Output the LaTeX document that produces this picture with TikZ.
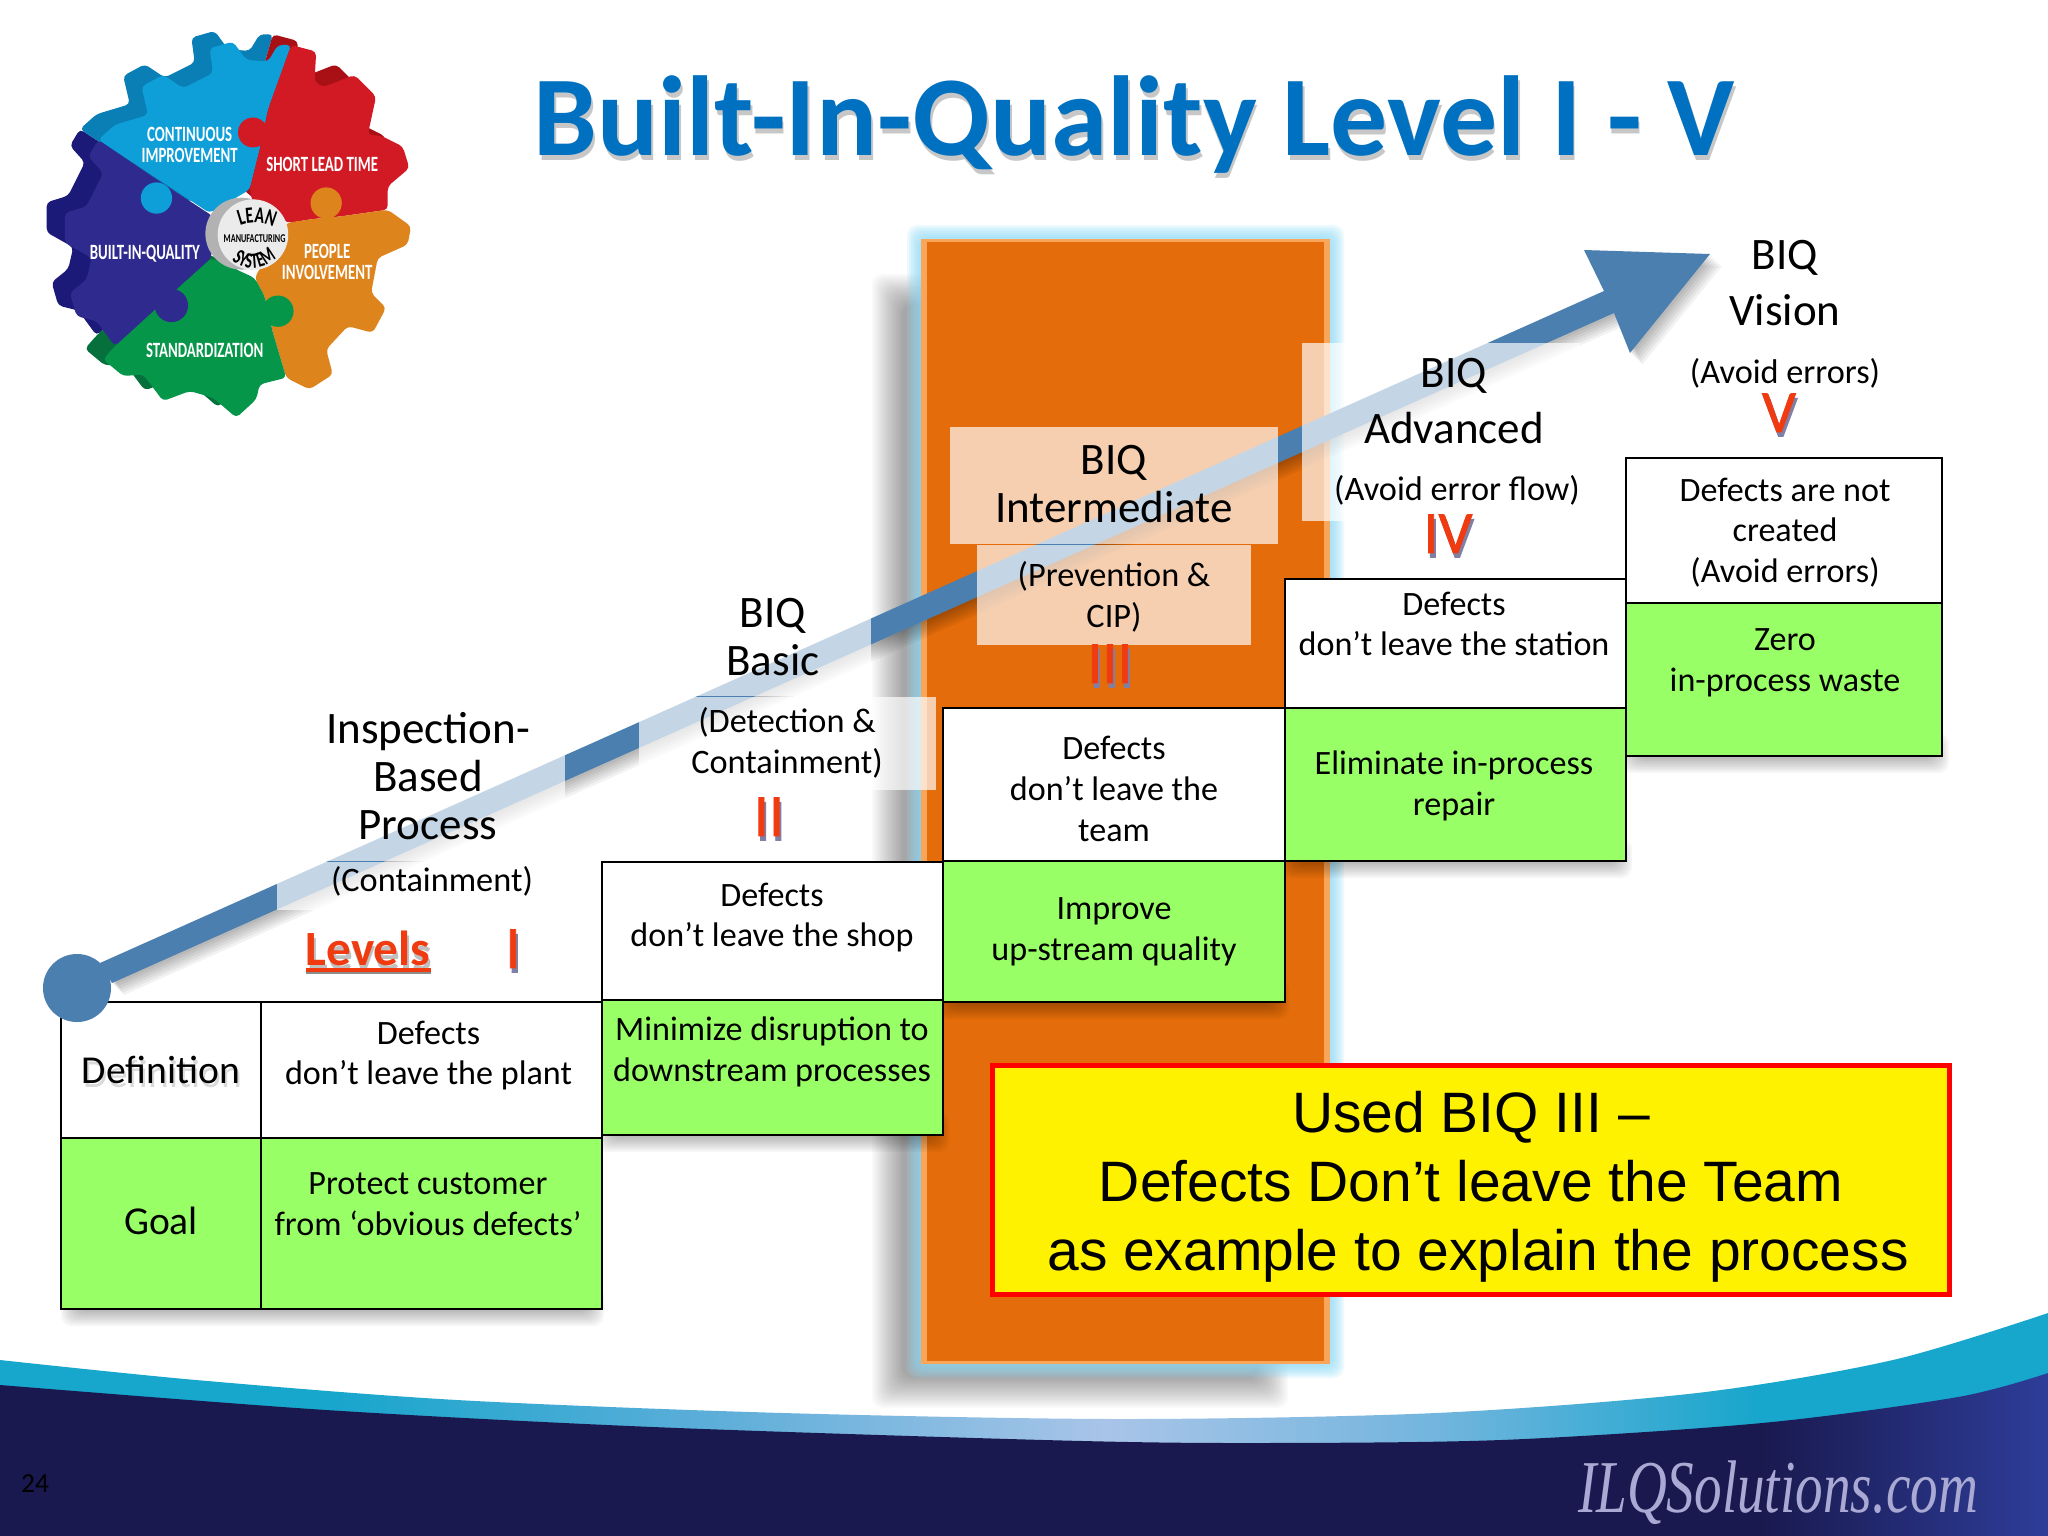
\documentclass[tikz,border=0pt]{standalone}
\usepackage{fontspec}
\usetikzlibrary{positioning, calc, decorations.text}
\setmainfont{Carlito}
\newfontfamily\arialfont{Liberation Sans}
\newfontfamily\serifitalic[FakeStretch=0.74]{Liberation Serif Italic}
\newfontfamily\gearfont[FakeStretch=0.68]{Carlito}
\newfontfamily\numeralfont[FakeBold=1.2]{Carlito}

\definecolor{navy}{HTML}{1A1A50}
\definecolor{cellgreen}{HTML}{99FF66}
\definecolor{arrowblue}{HTML}{4A7FB0}
\definecolor{columnorange}{HTML}{E46C0A}
\definecolor{columnedge}{HTML}{F9A65A}
\definecolor{levelred}{HTML}{F03A10}
\definecolor{titleblue}{HTML}{0070C0}
\definecolor{gearsky}{HTML}{0E9FD8}
\definecolor{gearskyback}{HTML}{0A7FB5}
\definecolor{gearred}{HTML}{D21A25}
\definecolor{gearredback}{HTML}{A81016}
\definecolor{gearorange}{HTML}{DD841C}
\definecolor{geargreen}{HTML}{06964A}
\definecolor{geargreenback}{HTML}{06703C}
\definecolor{gearindigo}{HTML}{2E2A8E}
\definecolor{gearindigoback}{HTML}{1C1A78}

\pgfdeclarehorizontalshading{ribbonfade}{100bp}{
  rgb(0bp)=(0.09,0.65,0.80); rgb(33bp)=(0.09,0.65,0.80); rgb(42bp)=(0.35,0.68,0.85);
  rgb(52bp)=(0.66,0.77,0.91); rgb(60bp)=(0.45,0.71,0.87); rgb(68bp)=(0.09,0.65,0.80); rgb(100bp)=(0.09,0.65,0.80)}
\pgfdeclarehorizontalshading{navyfade}{100bp}{
  rgb(0bp)=(0.10,0.10,0.31); rgb(68bp)=(0.10,0.10,0.31); rgb(75bp)=(0.18,0.24,0.60); rgb(100bp)=(0.18,0.24,0.60)}

% blurred rectangle: [reach] colour, opacity, corners
\newcommand{\softrect}[7][14]{
  \foreach \g in {0,2,...,#1}
    \fill[#2, opacity=#3, rounded corners=3pt] (#4-\g,#5-\g) rectangle (#6+\g,#7+\g);
}
% text with a dropped shadow
\newcommand{\dropped}[2][black!25]{\leavevmode\rlap{\kern.5pt\raisebox{-1.3pt}{\textcolor{#1}{#2}}}#2}

\begin{document}
\begin{tikzpicture}[
    x=0.01cm, y=-0.01cm,
    cell/.style={rectangle, draw=black, line width=0.75pt, inner sep=0pt, outer sep=0pt},
    plaincell/.style={cell, fill=white},
    greencell/.style={cell, fill=cellgreen},
    celltext/.style={align=center, inner sep=0pt, font=\fontsize{9.7}{11.6}\selectfont},
    headtext/.style={align=center, inner sep=0pt, font=\fontsize{12.8}{13.7}\selectfont},
    subtext/.style={align=center, inner sep=0pt, font=\fontsize{9.75}{11.6}\selectfont},
    numeral/.style={text=levelred, inner sep=0pt, font=\numeralfont\fontsize{17}{17}\selectfont},
    gearlabel/.style={text=white, align=center, inner sep=0pt, font=\gearfont\bfseries\fontsize{6.2}{6.1}\selectfont},
    geartooth/.style={rounded corners=1.2pt},
    veil/.style={fill=white, fill opacity=0.68}
]
    \useasboundingbox (0,0) rectangle (2048,1536);
    \fill[white] (0,0) rectangle (2048,1536);

    % Footer ribbon
    \shade[shading=ribbonfade] plot[smooth] coordinates {(0,1360) (196,1380) (457,1400) (783,1413) (1123,1419) (1436,1413) (1697,1393) (1893,1360) (2048,1313)} -- (2048,1536) -- (0,1536) -- cycle;
    \shade[shading=navyfade] plot[smooth] coordinates {(0,1385) (326,1410) (653,1427) (1044,1440) (1240,1443) (1501,1440) (1762,1423) (1958,1397) (2048,1373)} -- (2048,1536) -- (0,1536) -- cycle;

    % Highlighted column
    \softrect[30]{black}{0.022}{902}{304}{1258}{1378}
    \softrect{cyan!45}{0.16}{921}{239}{1330}{1364}
    \fill[columnedge] (921,239) rectangle (1330,1364);
    \fill[columnorange] (927,242) -- (1324,242) -- (1324,1361) -- (927,1361) -- cycle;

    % Shadows under the table
    \softrect{black}{0.035}{75}{1300}{590}{1312}
    \softrect{black}{0.035}{610}{1126}{935}{1138}
    \softrect{black}{0.035}{950}{993}{1275}{1005}
    \softrect{black}{0.035}{1295}{852}{1618}{864}
    \softrect{black}{0.035}{1635}{747}{1935}{759}

    % Table
    \node[plaincell, minimum width=2.00cm, minimum height=1.36cm] (defrow) at (161,1070) {};
    \node[greencell, minimum width=2.00cm, minimum height=1.71cm] (goalrow) at (161,1223.5) {};
    \node[plaincell, minimum width=3.41cm, minimum height=1.36cm] (plantdef) at (431.5,1070) {};
    \node[greencell, minimum width=3.41cm, minimum height=1.71cm] (plantgoal) at (431.5,1223.5) {};
    \node[plaincell, minimum width=3.41cm, minimum height=1.38cm] (shopdef) at (772.5,931) {};
    \node[greencell, minimum width=3.41cm, minimum height=1.35cm] (shopgoal) at (772.5,1067.5) {};
    \node[plaincell, minimum width=3.42cm, minimum height=1.53cm] (teamdef) at (1114,784.5) {};
    \node[greencell, minimum width=3.42cm, minimum height=1.41cm] (teamgoal) at (1114,931.5) {};
    \node[plaincell, minimum width=3.41cm, minimum height=1.29cm] (stationdef) at (1455.5,643.5) {};
    \node[greencell, minimum width=3.41cm, minimum height=1.53cm] (stationgoal) at (1455.5,784.5) {};
    \node[plaincell, minimum width=3.16cm, minimum height=1.45cm] (visiondef) at (1784,530.5) {};
    \node[greencell, minimum width=3.16cm, minimum height=1.53cm] (visiongoal) at (1784,679.5) {};

    % Rising arrow
    \coordinate (shaftup) at (100,963);
    \coordinate (shaftlow) at (112,983);
    \coordinate (neckup) at (1604,291);
    \coordinate (necklow) at (1614,313);
    \coordinate (headleft) at (1584,250);
    \coordinate (headtip) at (1710,254);
    \coordinate (headlow) at (1630,353);
    \foreach \s in {2,4,...,12}
      \fill[black, opacity=0.05] ([shift={(\s,\s)}]shaftup) -- ([shift={(\s,\s)}]neckup) -- ([shift={(\s,\s)}]headleft) -- ([shift={(\s,\s)}]headtip) -- ([shift={(\s,\s)}]headlow) -- ([shift={(\s,\s)}]necklow) -- ([shift={(\s,\s)}]shaftlow) -- cycle;
    \fill[arrowblue] (shaftup) -- (neckup) -- (headleft) -- (headtip) -- (headlow) -- (necklow) -- (shaftlow) -- cycle;
    \node[circle, fill=arrowblue, minimum size=0.68cm, inner sep=0pt] (pivot) at (77,988) {};

    % Text backgrounds
    \fill[veil] (277,700) rectangle (565,861);
    \fill[veil] (277,861.8) rectangle (565,910);
    \fill[veil] (639,581) rectangle (871,696);
    \fill[veil] (639,696.8) rectangle (936,790);
    \fill[veil] (950,427) rectangle (1278,544);
    \fill[veil] (977,544.8) rectangle (1251,645);
    \fill[veil] (1302,343) rectangle (1580,521);

    % Level texts
    \node[headtext] (inspecthead) at (428,776) {Inspection-\\Based\\Process};
    \node[subtext] (inspectsub) at (432,881.5) {(Containment)};
    \node[headtext] (basichead) at (773,637) {BIQ\\Basic};
    \node[subtext] (basicsub) at (787,743) {(Detection \&\\Containment)};
    \node[headtext] (midhead) at (1114,484) {BIQ\\Intermediate};
    \node[subtext] (midsub) at (1114,597) {(Prevention \&\\CIP)};
    \node[headtext, font=\fontsize{12.8}{16}\selectfont] (advhead) at (1454,401) {BIQ\\Advanced};
    \node[subtext] (advsub) at (1457,490.5) {(Avoid error flow)};
    \node[headtext, font=\fontsize{12.8}{16}\selectfont] (visionhead) at (1785,283) {BIQ\\Vision};
    \node[subtext] (visionsub) at (1785,373.5) {(Avoid errors)};

    % Numerals
    \node[inner sep=0pt, font=\fontsize{14}{14}\bfseries\selectfont, text=levelred] (levels) at (368,951) {\dropped{Levels}};
    \draw[black!45, line width=1.3pt] (306,972) -- (431,972);
    \draw[levelred, line width=1pt] (306,970) -- (431,970);
    \node[numeral] (levelone) at (513,951) {\dropped[blue!30!black!50]{I}};
    \node[numeral] (leveltwo) at (769,819) {\dropped[blue!30!black!50]{II}};
    \node[numeral] (levelthree) at (1110,666) {\dropped[blue!30!black!50]{III}};
    \node[numeral] (levelfour) at (1448,536) {\dropped[blue!30!black!50]{IV}};
    \node[numeral] (levelfive) at (1779,415) {\dropped[blue!30!black!50]{V}};

    % Cell texts
    \node[headtext, font=\fontsize{11.25}{12}\selectfont] (deftext) at (161,1072) {\dropped[black!15]{Definition}};
    \node[headtext, font=\fontsize{11.25}{12}\selectfont] (goaltext) at (161,1221) {Goal};
    \node[celltext] (planttext) at (428.5,1055.5) {Defects\\don’t leave the plant};
    \node[celltext] (protecttext) at (428,1204) {Protect customer\\from ‘obvious defects’};
    \node[celltext] (shoptext) at (772,917.5) {Defects\\don’t leave the shop};
    \node[celltext] (minimizetext) at (772,1051.5) {Minimize disruption to\\downstream processes};
    \node[celltext] (teamtext) at (1114,789) {Defects\\don’t leave the\\team};
    \node[celltext] (improvetext) at (1114,932) {Improve\\up-stream quality};
    \node[celltext] (stationtext) at (1454,624) {Defects\\don’t leave the station};
    \node[celltext] (eliminatetext) at (1454,785.5) {Eliminate in-process\\repair};
    \node[celltext] (visiontext) at (1785,532.5) {Defects are not\\created\\(Avoid errors)};
    \node[celltext] (zerotext) at (1785,663) {Zero\\in-process waste};

    % Callout
    \node[rectangle, draw=red, fill=yellow, line width=1.5pt, minimum width=9.56cm, minimum height=2.27cm, align=center, font=\arialfont\fontsize{16.2}{19.7}\selectfont] (callout) at (1471,1180) {\rule{0pt}{15.5pt}Used BIQ III –\\Defects Don’t leave the Team\\\hspace*{4pt}as example to explain the process};

    % Title
    \node[font=\fontsize{32.35}{34}\bfseries\selectfont, text=titleblue] (title) at (1134,127) {\dropped[black!22]{Built-In-Quality Level I - V}};

    % Footer texts
    \node[font=\fontsize{7.8}{8}\selectfont, text=black] (pagenum) at (35,1484) {24};
    \node[font=\serifitalic\fontsize{21.2}{22}\selectfont, text=blue!15!white!75!navy] (brand) at (1778,1493) {ILQSolutions.com};

    % Gear logo
    \begin{scope}[shift={(20,10)}, x=0.003333cm, y=-0.003333cm]
      % Extruded back faces
      \begin{scope}[shift={(-55,-32)}]
        \fill[gearindigoback, geartooth] (235,390) -- (205,440) -- (250,490) -- (200,590) -- (135,610) -- (135,700) -- (215,745) -- (200,810) -- (150,850) -- (170,920) -- (230,935) -- (285,1010) -- (575,745) -- (570,610) -- cycle;
        \fill[geargreenback, geartooth] (285,1010) -- (250,1050) -- (310,1100) -- (370,1095) -- (430,1175) -- (510,1145) -- (580,1165) -- (650,1225) -- (710,1170) -- (720,1125) -- (800,1105) -- (705,805) -- (575,745) -- cycle;
        \fill[gearskyback, geartooth] (235,390) -- (285,345) -- (385,315) -- (365,230) -- (430,195) -- (490,235) -- (580,190) -- (570,115) -- (640,95) -- (680,150) -- (745,155) -- (775,105) -- (815,105) -- (690,540) -- (570,610) -- cycle;
        \fill[gearredback, geartooth] (815,105) -- (890,125) -- (885,215) -- (910,232) -- (1005,195) -- (1070,260) -- (1045,375) -- (1085,378) -- (1150,410) -- (1170,475) -- (1105,530) -- (1105,600) -- (805,640) -- (690,540) -- cycle;
      \end{scope}
      % Front faces
      \fill[gearsky, geartooth] (235,390) -- (285,345) -- (385,315) -- (365,230) -- (430,195) -- (490,235) -- (580,190) -- (570,115) -- (640,95) -- (680,150) -- (745,155) -- (775,105) -- (815,105) -- (745,300) -- (720,420) -- (690,540) -- (570,610) -- cycle;
      \fill[gearred, geartooth] (815,105) -- (890,125) -- (885,215) -- (910,232) -- (1005,195) -- (1070,260) -- (1045,375) -- (1085,378) -- (1150,410) -- (1170,475) -- (1105,530) -- (1105,600) -- (965,620) -- (880,628) -- (805,640) -- (700,580) -- (690,540) -- (720,420) -- (745,300) -- cycle;
      \fill[gearorange, geartooth] (1105,600) -- (1175,650) -- (1165,705) -- (1075,745) -- (1055,850) -- (1100,895) -- (1060,970) -- (985,950) -- (920,1020) -- (940,1095) -- (870,1140) -- (800,1105) -- (760,970) -- (735,860) -- (705,805) -- (800,640) -- (880,628) -- (965,620) -- cycle;
      \fill[geargreen, geartooth] (285,1010) -- (250,1050) -- (310,1100) -- (370,1095) -- (430,1175) -- (510,1145) -- (580,1165) -- (650,1225) -- (710,1170) -- (720,1125) -- (800,1105) -- (760,970) -- (735,860) -- (705,805) -- (575,745) -- (480,830) -- (400,905) -- cycle;
      \fill[gearindigo, geartooth] (235,390) -- (205,440) -- (250,490) -- (200,590) -- (135,610) -- (135,700) -- (215,745) -- (200,810) -- (150,850) -- (170,920) -- (230,935) -- (285,1010) -- (400,905) -- (480,830) -- (575,745) -- (580,620) -- (470,548) -- (390,495) -- cycle;
      \fill[gearsky] (410,565) circle (47);
      \fill[gearred] (700,368) circle (45);
      \fill[gearorange] (920,580) circle (47);
      \fill[geargreen] (775,905) circle (47);
      \fill[gearindigo] (455,888) circle (50);
      % Hub
      \fill[black!30] (665,672) circle (108);
      \fill[black!8] (700,675) circle (106);
      \node[gearlabel] (contlabel) at (510,405) {CONTINUOUS\\IMPROVEMENT};
      \node[gearlabel] (leadlabel) at (908,465) {SHORT LEAD TIME};
      \node[gearlabel] (biqlabel) at (375,733) {BUILT-IN-QUALITY};
      \node[gearlabel] (peoplelabel) at (923,757) {PEOPLE\\INVOLVEMENT};
      \node[gearlabel] (stdlabel) at (555,1022) {STANDARDIZATION};
      \node[inner sep=0pt, font=\gearfont\bfseries\fontsize{3.4}{4}\selectfont] (mfglabel) at (705,688) {MANUFACTURING};
      \path[decorate, decoration={text along path, text={|\gearfont\bfseries\fontsize{6.6}{8}\selectfont|LEAN}, text align=center}] (628,668) .. controls (675,630) and (735,630) .. (795,673);
      \path[decorate, decoration={text along path, text={|\gearfont\bfseries\fontsize{6.2}{7}\selectfont|SYSTEM}, text align=center}] (622,735) .. controls (660,790) and (740,790) .. (785,730);
    \end{scope}
\end{tikzpicture}
\end{document}
